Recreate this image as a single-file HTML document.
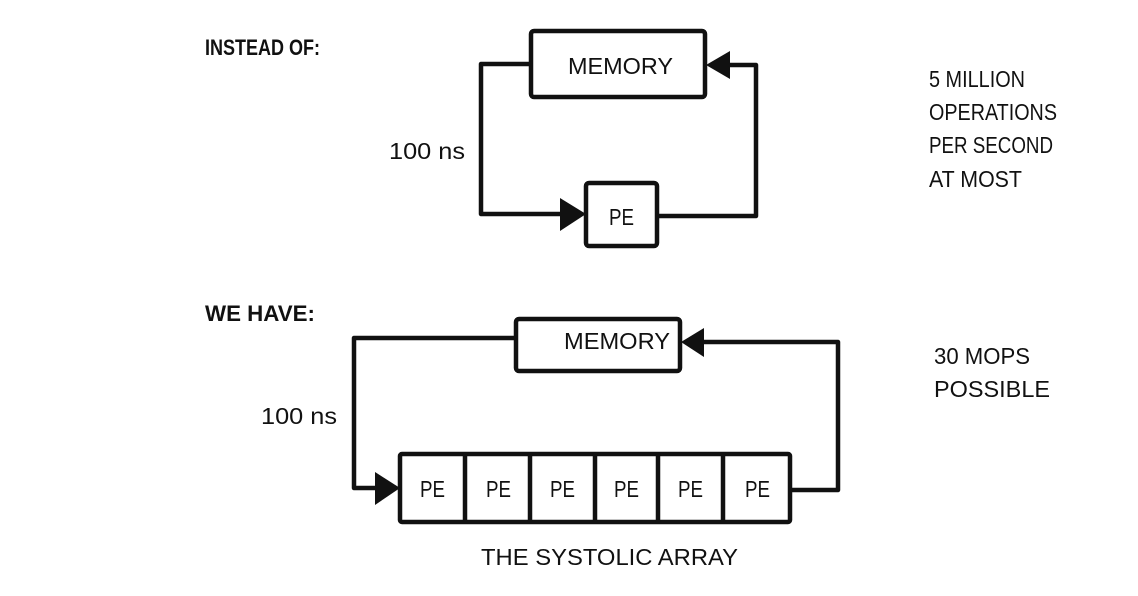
<!DOCTYPE html>
<html><head><meta charset="utf-8"><style>
html,body{margin:0;padding:0;background:#fff;}
svg{display:block;}
text{font-family:"Liberation Sans",sans-serif;font-size:23px;fill:#111;}
.b{font-weight:bold;font-size:22px;}
</style></head><body>
<svg width="1138" height="596" viewBox="0 0 1138 596" xmlns="http://www.w3.org/2000/svg">
<g fill="none" stroke="#111" stroke-width="4.5" stroke-linejoin="round">
<rect x="531" y="31" width="174" height="66" rx="3"/>
<rect x="586" y="183" width="71" height="63" rx="3"/>
<polyline points="531,64 481,64 481,214 566,214"/>
<polyline points="657,216 756,216 756,65 725,65"/>
<rect x="516" y="319" width="164" height="52" rx="3"/>
<polyline points="516,338 354,338 354,488 380,488"/>
<polyline points="790,490 838,490 838,342 700,342"/>
<rect x="400" y="454" width="390" height="68" rx="2"/>
<line x1="465" y1="454" x2="465" y2="522"/>
<line x1="530" y1="454" x2="530" y2="522"/>
<line x1="595" y1="454" x2="595" y2="522"/>
<line x1="658" y1="454" x2="658" y2="522"/>
<line x1="723" y1="454" x2="723" y2="522"/>
</g>
<g fill="#111">
<polygon points="586,214 560,198 560,231"/>
<polygon points="706,65 730,51 730,79"/>
<polygon points="400,488 375,472 375,505"/>
<polygon points="681,342 704,328 704,357"/>
</g>
<g lengthAdjust="spacingAndGlyphs">
<text class="b" x="205" y="55" textLength="115" lengthAdjust="spacingAndGlyphs">INSTEAD OF:</text>
<text class="b" x="205" y="321" textLength="110" lengthAdjust="spacingAndGlyphs">WE HAVE:</text>
<text x="568" y="74" textLength="105" lengthAdjust="spacingAndGlyphs">MEMORY</text>
<text x="564" y="349" textLength="106" lengthAdjust="spacingAndGlyphs">MEMORY</text>
<text x="389" y="159" textLength="76" lengthAdjust="spacingAndGlyphs">100 ns</text>
<text x="261" y="424" textLength="76" lengthAdjust="spacingAndGlyphs">100 ns</text>
<text x="609" y="225" textLength="25" lengthAdjust="spacingAndGlyphs">PE</text>
<text x="420" y="497" textLength="25" lengthAdjust="spacingAndGlyphs">PE</text>
<text x="486" y="497" textLength="25" lengthAdjust="spacingAndGlyphs">PE</text>
<text x="550" y="497" textLength="25" lengthAdjust="spacingAndGlyphs">PE</text>
<text x="614" y="497" textLength="25" lengthAdjust="spacingAndGlyphs">PE</text>
<text x="678" y="497" textLength="25" lengthAdjust="spacingAndGlyphs">PE</text>
<text x="745" y="497" textLength="25" lengthAdjust="spacingAndGlyphs">PE</text>
<text x="481" y="565" textLength="257" lengthAdjust="spacingAndGlyphs">THE SYSTOLIC ARRAY</text>
<text x="929" y="87" textLength="96" lengthAdjust="spacingAndGlyphs">5 MILLION</text>
<text x="929" y="120" textLength="128" lengthAdjust="spacingAndGlyphs">OPERATIONS</text>
<text x="929" y="153" textLength="124" lengthAdjust="spacingAndGlyphs">PER SECOND</text>
<text x="929" y="187" textLength="93" lengthAdjust="spacingAndGlyphs">AT MOST</text>
<text x="934" y="364" textLength="96" lengthAdjust="spacingAndGlyphs">30 MOPS</text>
<text x="934" y="397" textLength="116" lengthAdjust="spacingAndGlyphs">POSSIBLE</text>
</g>
</svg>
</body></html>
